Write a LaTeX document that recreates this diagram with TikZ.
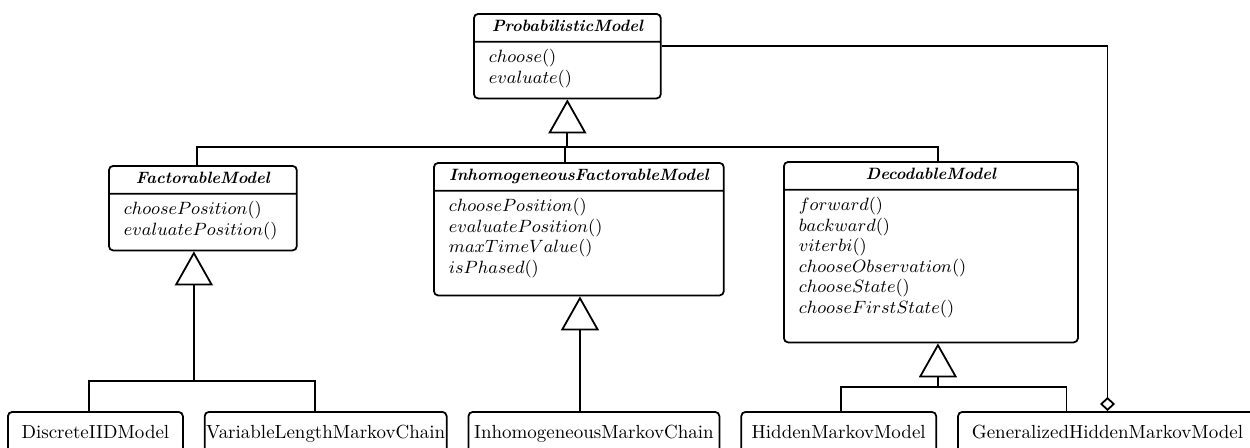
\documentclass[tikz,border=0pt]{standalone}
\usepackage{tikz}
\usetikzlibrary{calc,shapes.multipart,arrows.meta,positioning}

\begin{document}
\begin{tikzpicture}[
  x=0.506pt, y=-0.506pt,
  node distance=10.12pt,
  classbox/.style={rectangle split,rectangle split parts=2,
    rectangle split draw splits,draw,line width=0.9pt,rounded corners=2.2pt,
    inner xsep=7.6pt,inner ysep=1pt,anchor=north west,
    font=\fontsize{9}{11}\selectfont},
  leafbox/.style={rectangle,draw,line width=0.9pt,rounded corners=2.2pt,
    inner xsep=0pt,inner ysep=5.26pt,text height=8.2pt,text depth=3.34pt,
    font=\fontsize{9.6}{12}\selectfont},
  link/.style={line width=0.9pt},
  inherit/.style={line width=0.9pt,-{Triangle[open,length=17.2pt,width=19.2pt]}},
  aggreg/.style={line width=0.9pt,-{Diamond[open,length=7.1pt,width=7.6pt]}}
]
  \path[use as bounding box,clip] (0,0) rectangle (1250,447);
  \renewcommand{\arraystretch}{0.943}

  \node[classbox] (pm) at (473,13) {\makebox[79.4pt]{\fontsize{8.3}{10}\selectfont\bfseries\itshape
      \rule[-3.55pt]{0pt}{11.15pt}ProbabilisticModel}
    \nodepart{two}\begin{tabular}{@{}p{79.4pt}@{}}\noalign{\vskip1.86pt}
      $choose()$\\ $evaluate()$\\[3.23pt]\end{tabular}};
  \node[classbox] (fm) at (108,165) {\makebox[79.9pt]{\fontsize{8.3}{10}\selectfont\bfseries\itshape
      \rule[-3.55pt]{0pt}{11.15pt}FactorableModel}
    \nodepart{two}\begin{tabular}{@{}p{79.9pt}@{}}\noalign{\vskip1.86pt}
      $choosePosition()$\\ $evaluatePosition()$\\[3.23pt]\end{tabular}};
  \node[classbox] (ifm) at (433,162) {\makebox[131.5pt]{\fontsize{8.3}{10}\selectfont\bfseries\itshape
      \rule[-3.55pt]{0pt}{11.15pt}InhomogeneousFactorableModel}
    \nodepart{two}\begin{tabular}{@{}p{131.5pt}@{}}\noalign{\vskip1.86pt}
      $choosePosition()$\\ $evaluatePosition()$\\ $maxTimeValue()$\\
      $isPhased()$\\[6.78pt]\end{tabular}};
  \node[classbox] (dm) at (783,161) {\makebox[133.6pt]{\fontsize{8.3}{10}\selectfont\bfseries\itshape
      \rule[-3.55pt]{0pt}{11.15pt}DecodableModel}
    \nodepart{two}\begin{tabular}{@{}p{133.6pt}@{}}\noalign{\vskip1.86pt}
      $forward()$\\ $backward()$\\ $viterbi()$\\ $chooseObservation()$\\
      $chooseState()$\\ $chooseFirstState()$\\[10.3pt]\end{tabular}};

  \node[leafbox,minimum width=88.55pt,anchor=north west] (dim) at (7,411) {DiscreteIIDModel};
  \node[leafbox,minimum width=122.45pt,right=of dim] (vlmc) {VariableLengthMarkovChain};
  \node[leafbox,minimum width=127pt,right=of vlmc] (imc) {InhomogeneousMarkovChain};
  \node[leafbox,minimum width=98.67pt,right=of imc] (hmm) {HiddenMarkovModel};
  \node[leafbox,minimum width=151.3pt,right=of hmm] (ghmm) {GeneralizedHiddenMarkovModel};

  \coordinate (pmbus) at ($(pm.south)+(0,48)$);
  \draw[link] ($(fm.north)+(-6,0)$) |- (pmbus) -| ($(dm.north)+(7,0)$);
  \draw[link] ($(ifm.north)+(-14,0)$) |- (pmbus);
  \draw[inherit] (pmbus) -- (pm.south);

  \coordinate (fmbus) at ($(fm.south)+(-9,130)$);
  \draw[link] ($(dim.north)+(-6.5,0)$) |- (fmbus) -| ($(vlmc.north)+(-11,0)$);
  \draw[inherit] (fmbus) -- ($(fm.south)+(-9,0)$);

  \coordinate (imcup) at ($(imc.north)+(-14,0)$);
  \draw[inherit] (imcup) -- (imcup |- ifm.south);

  \coordinate (dmbus) at ($(dm.south)+(7,44)$);
  \draw[link] ($(hmm.north)+(2,0)$) |- (dmbus) -| ($(ghmm.north)+(-41,0)$);
  \draw[inherit] (dmbus) -- ($(dm.south)+(7,0)$);

  \draw[aggreg] ($(pm.one split east)+(0,4)$) -| (ghmm.north);
\end{tikzpicture}
\end{document}
